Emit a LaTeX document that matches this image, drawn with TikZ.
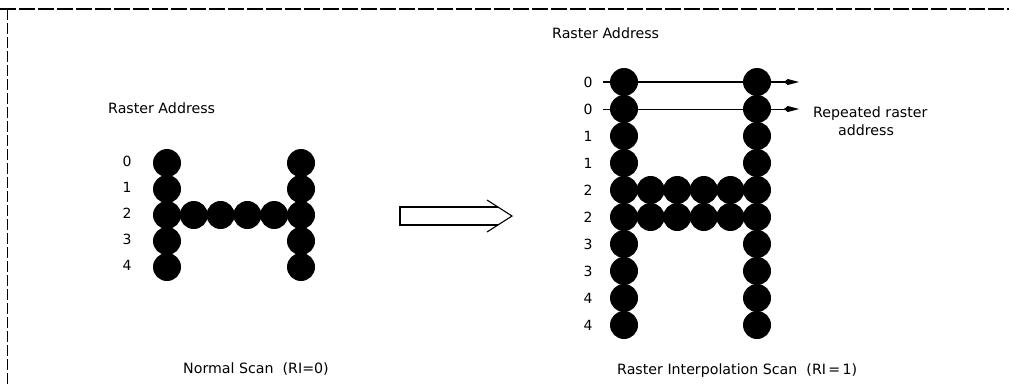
\documentclass[tikz,border=0pt]{standalone}
\usepackage{fontspec}
\setmainfont{DejaVu Sans}
\usetikzlibrary{arrows.meta}
\begin{document}
\begin{tikzpicture}[x=1pt,y=-1pt,
  dot/.style={circle,fill=black,inner sep=0pt,minimum size=28pt},
  lab/.style={font=\fontsize{14.2}{18}\selectfont,inner sep=0pt,anchor=base west},
  rowlab/.style={font=\fontsize{14}{16}\selectfont,inner sep=0pt},
  rasterarrow/.style={-{Kite[length=15pt,width=6pt]}},
  frame/.style={line width=2pt,dash pattern=on 16pt off 3pt},
  sideframe/.style={line width=1pt,dash pattern=on 11pt off 3pt},
  hollow/.style={line width=1.1pt,line join=miter}]
\useasboundingbox (0,0) rectangle (1009,384);
% frame
\draw[frame] (0,9) -- (1009,9);
\draw[sideframe] (7,9) -- (7,384);
% titles
\node[lab] (ltitle) at (108,113) {Raster Address};
\node[lab] (rtitle) at (552,38) {Raster Address};
% left H
\foreach \j in {0,...,4}{
  \node[dot] (L0\j) at (167,163+26*\j) {};
  \node[dot] (L5\j) at (301,163+26*\j) {};
  \node[rowlab] (ll\j) at (127,161+26*\j) {\j};
}
\foreach \i in {1,...,4}
  \node[dot] (L\i2) at (167+26.8*\i,215) {};
% hollow arrow
\draw[hollow] (487,200) -- (512,216) -- (487,232);
\draw[hollow] (498,207) -- (400,207) -- (400,225) -- (498,225);
% right H
\foreach \j in {0,...,9}{
  \node[dot] (R0\j) at (624,82+27*\j) {};
  \node[dot] (R5\j) at (757,82+27*\j) {};
}
\foreach \i in {1,...,4}{
  \node[dot] (R\i4) at (624+26.6*\i,190) {};
  \node[dot] (R\i5) at (624+26.6*\i,217) {};
}
\foreach \j/\t in {0/0,1/0,2/1,3/1,4/2,5/2,6/3,7/3,8/4,9/4}
  \node[rowlab] (rl\j) at (588,82+27*\j) {\t};
% repeated-address arrows
\coordinate (s0) at (603,82);
\coordinate (e0) at (799,82);
\coordinate (s1) at (603,109);
\coordinate (e1) at (799,109);
\draw[rasterarrow,line width=1.8pt] (s0) -- (e0);
\draw[rasterarrow,line width=0.9pt] (s1) -- (e1);
\node[lab] (rep1) at (813,117) {Repeated raster};
\node[lab] (rep2) at (838,135) {address};
% captions
\node[lab] (cap1) at (183,373) {Normal Scan\ \ (RI=0)};
\node[lab] (cap2) at (617,374) {Raster Interpolation Scan\ \ (RI\,=\,1)};
\end{tikzpicture}
\end{document}
